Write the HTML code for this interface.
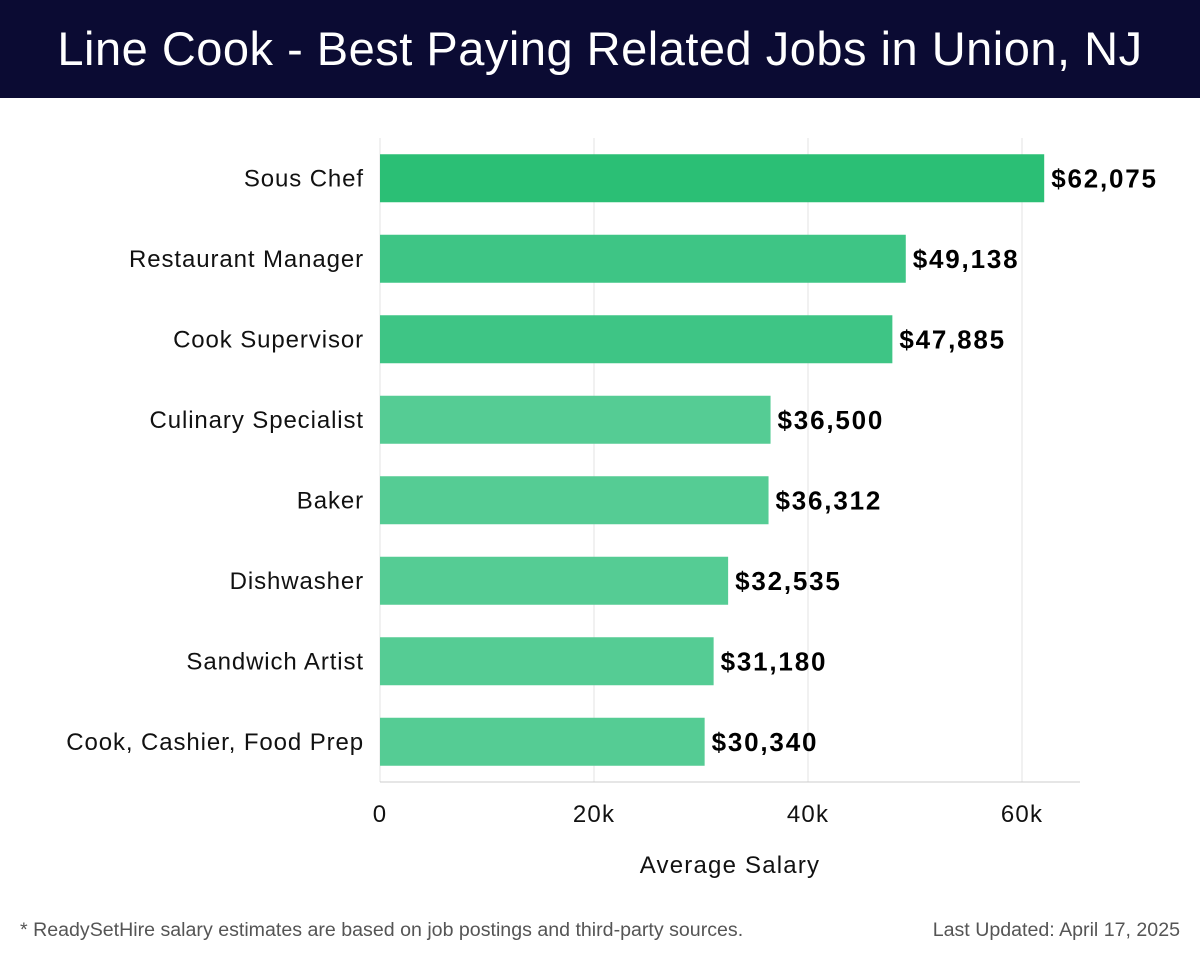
<!DOCTYPE html>
<html><head><meta charset="utf-8"><style>
body{margin:0;width:1200px;height:958px;background:#fff;font-family:"Liberation Sans",sans-serif;overflow:hidden}
#hdr{position:absolute;left:0;top:0;width:1200px;height:98px;background:#0b0b33;color:#fff;font-size:47px;text-align:center;line-height:98px;letter-spacing:0.5px}
.foot{position:absolute;top:919px;font-size:19.6px;color:#555}
</style></head><body>
<div id="hdr">Line Cook - Best Paying Related Jobs in Union, NJ</div>
<svg id="chart" width="1200" height="958" style="position:absolute;left:0;top:0"></svg>
<div class="foot" style="left:20px">* ReadySetHire salary estimates are based on job postings and third-party sources.</div>
<div class="foot" style="right:20px">Last Updated: April 17, 2025</div>
<script>
const categories=["Sous Chef","Restaurant Manager","Cook Supervisor","Culinary Specialist","Baker","Dishwasher","Sandwich Artist","Cook, Cashier, Food Prep"];
const values=[62075,49138,47885,36500,36312,32535,31180,30340];
const valueLabels=["$62,075","$49,138","$47,885","$36,500","$36,312","$32,535","$31,180","$30,340"];
const ticks=[0,20000,40000,60000];
const tickLabels=["0","20k","40k","60k"];
const NS="http://www.w3.org/2000/svg";
const svg=document.getElementById('chart');
const x0=380,pxPer=(1022-380)/60000,yTop=138,yBot=782,band=80.5;
const xs=v=>x0+v*pxPer;
const yc=i=>yTop+band*(i+0.5);
const colors=["#2bbf75","#3ec585","#3ec585","#55cc94","#55cc94","#55cc94","#55cc94","#55cc94"];
function mk(t,a,txt){const e=document.createElementNS(NS,t);for(const k in a)e.setAttribute(k,a[k]);if(txt!=null)e.textContent=txt;svg.appendChild(e);return e;}
ticks.forEach((t,i)=>{
 const g=mk('line',{x1:xs(t),x2:xs(t),y1:yTop,y2:yBot,stroke:'#e3e3e3','stroke-width':1});
 
 
 const l=mk('text',{x:xs(t),y:822,'text-anchor':'middle','font-size':24,'letter-spacing':1.2,fill:'#111'},tickLabels[i]);
 
 
});
const ax=mk('line',{x1:x0,x2:1080,y1:yBot,y2:yBot,stroke:'#ccc','stroke-width':1});


categories.forEach((c,i)=>{
 const y=yc(i);
 const r=mk('rect',{x:x0,y:y-24,width:xs(values[i])-x0,height:48,fill:colors[i]});
 
 
 const t=mk('text',{x:364,y:y+8,'text-anchor':'end','font-size':24,'letter-spacing':0.9,fill:'#111'},c);
 
 
 const v=mk('text',{x:xs(values[i])+7,y:y+9,'font-size':26,'font-weight':'bold','letter-spacing':1.8,fill:'#000'},valueLabels[i]);
 
 
});
const at=mk('text',{x:730,y:873,'text-anchor':'middle','font-size':24,'letter-spacing':1.2,fill:'#111'},'Average Salary');


</script>
</body></html>
